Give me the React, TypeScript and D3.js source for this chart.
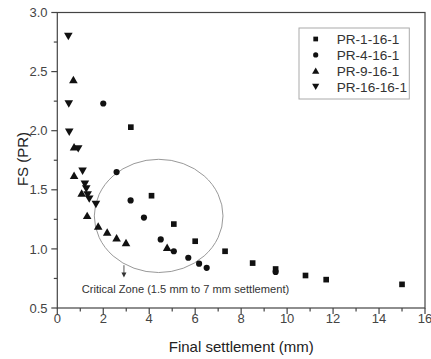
import React from "react";
import * as d3 from "d3";

const pr1X = [3.2, 4.1, 5.07, 6.0, 7.3, 8.5, 9.5, 10.8, 11.7, 15.0];
const pr1Y = [2.03, 1.45, 1.21, 1.065, 0.98, 0.88, 0.83, 0.775, 0.74, 0.7];
const pr4X = [2.0, 2.58, 3.19, 3.77, 4.5, 5.07, 5.7, 6.17, 6.5, 9.5];
const pr4Y = [2.23, 1.65, 1.41, 1.265, 1.08, 0.98, 0.925, 0.875, 0.84, 0.805];
const pr9X = [0.7, 0.73, 0.73, 1.06, 1.3, 1.78, 2.17, 2.58, 2.99, 4.78];
const pr9Y = [2.43, 1.86, 1.62, 1.47, 1.28, 1.19, 1.14, 1.09, 1.05, 1.01];
const pr16X = [0.48, 0.5, 0.52, 0.91, 1.1, 1.2, 1.26, 1.32, 1.39, 1.68];
const pr16Y = [2.8, 2.23, 1.99, 1.85, 1.66, 1.55, 1.51, 1.46, 1.425, 1.38];

const seriesNames = ["PR-1-16-1", "PR-4-16-1", "PR-9-16-1", "PR-16-16-1"];
const xTicks = [0, 2, 4, 6, 8, 10, 12, 14, 16];
const yTicks = [0.5, 1.0, 1.5, 2.0, 2.5, 3.0];

const W = 431;
const H = 359;
const FONT = "'Liberation Sans', Arial, sans-serif";

const x = d3.scaleLinear().domain([0, 16]).range([57.3, 425]);
const y = d3.scaleLinear().domain([0.5, 3.0]).range([308, 12.5]);

const symbols = [d3.symbolSquare, d3.symbolCircle, d3.symbolTriangle, d3.symbolTriangle];
const symSizes = [32, 30, 32, 32];
const symRot = [0, 0, 0, 180];

function Marker({ cx, cy, i, k = 1 }: { cx: number; cy: number; i: number; k?: number }) {
  const path = d3.symbol().type(symbols[i]).size(symSizes[i] * k)() as string;
  const dy = i === 2 ? 0.8 : i === 3 ? -0.8 : 0;
  return (
    <path
      d={path}
      transform={`translate(${cx},${cy + dy}) rotate(${symRot[i]})`}
      fill="#111"
    />
  );
}

export default function App() {
  const series = [
    { xs: pr1X, ys: pr1Y },
    { xs: pr4X, ys: pr4Y },
    { xs: pr9X, ys: pr9Y },
    { xs: pr16X, ys: pr16Y },
  ];
  const xMinor = d3.range(1, 16, 2);
  const yMinor = d3.range(0.75, 3.0, 0.5);

  // ellipse (critical zone) in data units
  const ecx = 4.41, ecy = 1.279, erx = 2.8, ery = 0.479;
  const arrowX = 2.9, arrowY0 = 0.862, arrowY1 = 0.758;

  return (
    <svg
      width={W}
      height={H}
      style={{ position: "absolute", left: 0, top: 0, background: "#fff" }}
      fontFamily={FONT}
    >
      {/* frame */}
      <rect
        x={x(0)}
        y={y(3.0)}
        width={x(16) - x(0)}
        height={y(0.5) - y(3.0)}
        fill="none"
        stroke="#444"
        strokeWidth={1.2}
      />
      {/* x ticks */}
      {xTicks.map((t) => (
        <g key={"xt" + t}>
          <line x1={x(t)} x2={x(t)} y1={y(0.5)} y2={y(0.5) + 6} stroke="#444" strokeWidth={1.2} />
          <text x={x(t)} y={323} textAnchor="middle" fontSize={13} fill="#444">
            {t}
          </text>
        </g>
      ))}
      {xMinor.map((t) => (
        <line key={"xm" + t} x1={x(t)} x2={x(t)} y1={y(0.5)} y2={y(0.5) + 3.5} stroke="#444" strokeWidth={1.2} />
      ))}
      {/* y ticks */}
      {yTicks.map((t) => (
        <g key={"yt" + t}>
          <line x1={x(0) - 6} x2={x(0)} y1={y(t)} y2={y(t)} stroke="#444" strokeWidth={1.2} />
          <text x={47.5} y={y(t) + 4.6} textAnchor="end" fontSize={13} fill="#444">
            {t.toFixed(1)}
          </text>
        </g>
      ))}
      {yMinor.map((t) => (
        <line key={"ym" + t} x1={x(0) - 3.5} x2={x(0)} y1={y(t)} y2={y(t)} stroke="#444" strokeWidth={1.2} />
      ))}
      {/* axis titles */}
      <text x={241.3} y={352} textAnchor="middle" fontSize={15} fill="#222">
        Final settlement (mm)
      </text>
      <text
        transform={`translate(27.5,159) rotate(-90)`}
        textAnchor="middle"
        fontSize={15}
        fill="#222"
      >
        FS (PR)
      </text>
      {/* critical zone */}
      <ellipse
        cx={x(ecx)}
        cy={y(ecy)}
        rx={x(ecx + erx) - x(ecx)}
        ry={y(ecy - ery) - y(ecy)}
        fill="none"
        stroke="#999"
        strokeWidth={1}
      />
      <line x1={x(arrowX)} x2={x(arrowX)} y1={y(arrowY0)} y2={y(arrowY1) - 4} stroke="#555" strokeWidth={1} />
      <path
        d={`M${x(arrowX) - 2.5},${y(arrowY1) - 5} L${x(arrowX) + 2.5},${y(arrowY1) - 5} L${x(arrowX)},${y(arrowY1)} Z`}
        fill="#333"
      />
      <text x={81.7} y={292.5} fontSize={11.1} fill="#333" textLength={207.5} lengthAdjust="spacingAndGlyphs">
        Critical Zone (1.5 mm to 7 mm settlement)
      </text>
      {/* data */}
      {series.map((s, i) => (
        <g key={"s" + i}>
          {s.xs.map((v, j) => (
            <Marker key={j} cx={x(v)} cy={y(s.ys[j])} i={i} />
          ))}
        </g>
      ))}
      {/* legend */}
      <rect x={299} y={28} width={110.3} height={71} fill="#fff" stroke="#aaa" strokeWidth={1} />
      {seriesNames.map((n, i) => (
        <g key={n}>
          <Marker cx={315.7} cy={39 + i * 15.9} i={i} k={0.7} />
          <text x={336.7} y={39 + i * 15.9 + 4.8} fontSize={13.6} fill="#333">
            {n}
          </text>
        </g>
      ))}
    </svg>
  );
}
